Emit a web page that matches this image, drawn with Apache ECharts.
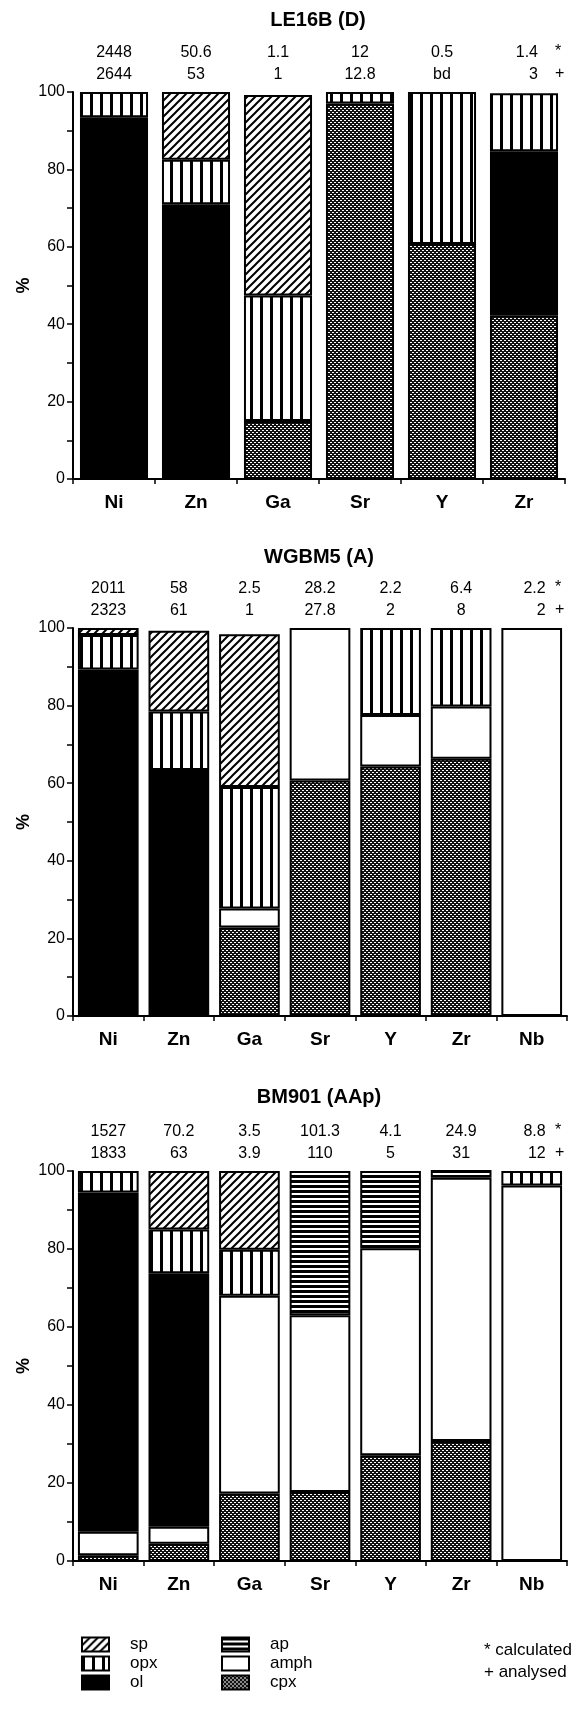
<!DOCTYPE html>
<html><head><meta charset="utf-8">
<script src="https://cdn.jsdelivr.net/npm/echarts@6/dist/echarts.min.js"></script>
<style>html,body{margin:0;padding:0;background:#fff}#c{width:576px;height:1716px}</style>
</head><body><div id="c"></div>
<script>
// ---------- DATA ----------
const titles = ['LE16B (D)', 'WGBM5 (A)', 'BM901 (AAp)'];
const elements1 = ['Ni', 'Zn', 'Ga', 'Sr', 'Y', 'Zr'];
const elements2 = ['Ni', 'Zn', 'Ga', 'Sr', 'Y', 'Zr', 'Nb'];
const elements3 = ['Ni', 'Zn', 'Ga', 'Sr', 'Y', 'Zr', 'Nb'];
const calc1 = ['2448', '50.6', '1.1', '12', '0.5', '1.4'];
const anal1 = ['2644', '53', '1', '12.8', 'bd', '3'];
const calc2 = ['2011', '58', '2.5', '28.2', '2.2', '6.4', '2.2'];
const anal2 = ['2323', '61', '1', '27.8', '2', '8', '2'];
const calc3 = ['1527', '70.2', '3.5', '101.3', '4.1', '24.9', '8.8'];
const anal3 = ['1833', '63', '3.9', '110', '5', '31', '12'];
const yTicks = [0, 20, 40, 60, 80, 100];

// mineral contributions (%), stacked bottom -> top: cpx, amph, ol, opx, sp, ap
const cpx1  = [null, null, 15, 97, 60.7, 42.3];
const amph1 = [null, null, null, null, null, null];
const ol1   = [93.5, 71, null, null, null, 42.4];
const opx1  = [6.5, 11.5, 32.4, 3, 39.3, 15];
const sp1   = [null, 17.5, 51.8, null, null, null];
const ap1   = [null, null, null, null, null, null];

const cpx2  = [1, 1, 22.8, 60.7, 64.3, 66.3, null];
const amph2 = [null, null, 4.9, 39.3, 13.3, 13.5, 100];
const ol2   = [88.3, 62.4, null, null, null, null, null];
const opx2  = [8.9, 15.1, 31.3, null, 22.4, 20.2, null];
const sp2   = [1.8, 20.8, 39.4, null, null, null, null];
const ap2   = [null, null, null, null, null, null, null];

const cpx3  = [1.5, 4.4, 17.3, 17.7, 27.1, 30.8, null];
const amph3 = [6, 4.4, 50.7, 45.3, 53.1, 67.5, 96.3];
const ol3   = [87, 65, null, null, null, null, null];
const opx3  = [5.5, 11.2, 11.8, null, null, null, 3.7];
const sp3   = [null, 15, 20.2, null, null, null, null];
const ap3   = [null, null, null, 37, 19.8, 2.3, null];

const legendCol1 = ['sp', 'opx', 'ol'];
const legendCol2 = ['ap', 'amph', 'cpx'];
const noteLines = ['* calculated', '+ analysed'];

// ---------- STYLE ----------
const FONT = 'Liberation Sans, Arial, sans-serif';
function tile(w, h, draw) {
  const c = document.createElement('canvas'); c.width = w; c.height = h;
  const g = c.getContext('2d'); draw(g); return {image: c, repeat: 'repeat'};
}
const fills = {
  sp: tile(8, 8, g => {
    g.fillStyle = '#fff'; g.fillRect(0, 0, 8, 8);
    g.strokeStyle = '#000'; g.lineWidth = 2;
    g.beginPath(); g.moveTo(-1, 9); g.lineTo(9, -1);
    g.moveTo(-1, 1); g.lineTo(1, -1); g.moveTo(7, 9); g.lineTo(9, 7); g.stroke();
  }),
  opx: tile(10, 1, g => { g.fillStyle = '#fff'; g.fillRect(0, 0, 10, 1); g.fillStyle = '#000'; g.fillRect(0, 0, 3, 1); }),
  ol: '#000',
  ap: tile(1, 5, g => { g.fillStyle = '#fff'; g.fillRect(0, 0, 1, 5); g.fillStyle = '#000'; g.fillRect(0, 0, 1, 3); }),
  amph: '#fff',
  cpx: tile(4, 4, g => {
    g.fillStyle = '#111'; g.fillRect(0, 0, 4, 4); g.fillStyle = '#fff';
    g.fillRect(0, 0, 1, 1); g.fillRect(2, 2, 1, 1); g.fillRect(1, 0, 1, 1); g.fillRect(3, 2, 1, 1);
  })
};
const layouts = [
  {left: 73, top: 92, width: 492, height: 387, titleY: 20, barW: '83%'},
  {left: 73, top: 628, width: 494, height: 388, titleY: 557, barW: '86%'},
  {left: 73, top: 1171, width: 494, height: 390, titleY: 1097, barW: '86%'}
];
const charts = [
  {cats: elements1, calc: calc1, anal: anal1, d: {cpx: cpx1, amph: amph1, ol: ol1, opx: opx1, sp: sp1, ap: ap1}},
  {cats: elements2, calc: calc2, anal: anal2, d: {cpx: cpx2, amph: amph2, ol: ol2, opx: opx2, sp: sp2, ap: ap2}},
  {cats: elements3, calc: calc3, anal: anal3, d: {cpx: cpx3, amph: amph3, ol: ol3, opx: opx3, sp: sp3, ap: ap3}}
];
const order = ['cpx', 'amph', 'ol', 'opx', 'sp', 'ap'];

const grid = [], xAxis = [], yAxis = [], series = [], graphic = [];
charts.forEach((ch, i) => {
  const L = layouts[i];
  const last = ch.cats.length - 1;
  grid.push({left: L.left, top: L.top, width: L.width, height: L.height});
  xAxis.push({
    type: 'category', gridIndex: i, data: ch.cats, position: 'bottom',
    axisLine: {lineStyle: {color: '#000', width: 2}},
    axisTick: {show: true, length: 5, lineStyle: {color: '#000', width: 1.5}},
    axisLabel: {color: '#000', fontFamily: FONT, fontSize: 19, fontWeight: 'bold', margin: 14},
    splitLine: {show: false}
  });
  xAxis.push({
    type: 'category', gridIndex: i, data: ch.cats, position: 'top',
    axisLine: {show: false}, axisTick: {show: false}, splitLine: {show: false},
    axisLabel: {color: '#000', fontFamily: FONT, fontSize: 16, lineHeight: 22, margin: 6,
      rich: {r: {width: 28, align: 'right', fontFamily: FONT, fontSize: 16, lineHeight: 22, color: '#000'}},
      formatter: (v, idx) => idx === last
        ? '{r|' + ch.calc[idx] + '}\n{r|' + ch.anal[idx] + '}'
        : ch.calc[idx] + '\n' + ch.anal[idx]}
  });
  yAxis.push({
    type: 'value', gridIndex: i, min: yTicks[0], max: yTicks[yTicks.length - 1], interval: 20,
    axisLine: {show: true, lineStyle: {color: '#000', width: 2}},
    axisTick: {show: true, length: 6, lineStyle: {color: '#000', width: 1.5}},
    minorTick: {show: true, splitNumber: 2, length: 6, lineStyle: {color: '#000', width: 1.5}},
    splitLine: {show: false}, minorSplitLine: {show: false},
    axisLabel: {color: '#000', fontFamily: FONT, fontSize: 16, margin: 8},
    name: '%', nameLocation: 'middle', nameGap: 40, nameRotate: 90, nameMoveOverlap: false,
    nameTextStyle: {color: '#000', fontFamily: FONT, fontSize: 18, fontWeight: 'bold'}
  });
  order.forEach(m => {
    series.push({
      type: 'bar', name: m, xAxisIndex: i * 2, yAxisIndex: i, stack: 'g' + i,
      data: ch.d[m], barWidth: L.barW,
      itemStyle: {color: fills[m], borderColor: '#000', borderWidth: 2},
      emphasis: {disabled: true}, animation: false
    });
  });
  graphic.push({type: 'text', x: L.left + L.width / 2 - 1, y: L.titleY,
    style: {text: titles[i], font: 'bold 20px ' + FONT, fill: '#000', textAlign: 'center', textVerticalAlign: 'middle'}});
  graphic.push({type: 'text', x: 555, y: L.top - 40,
    style: {text: '*', font: '16px ' + FONT, fill: '#000', textAlign: 'left', textVerticalAlign: 'middle'}});
  graphic.push({type: 'text', x: 555, y: L.top - 18,
    style: {text: '+', font: '16px ' + FONT, fill: '#000', textAlign: 'left', textVerticalAlign: 'middle'}});
});
noteLines.forEach((t, k) => {
  graphic.push({type: 'text', x: 484, y: 1650 + k * 22,
    style: {text: t, font: '17px ' + FONT, fill: '#000', textAlign: 'left', textVerticalAlign: 'middle'}});
});

const legendBase = {
  orient: 'vertical', top: 1631, itemWidth: 27, itemHeight: 14, itemGap: 2, icon: 'rect',
  selectedMode: false, textStyle: {color: '#000', fontFamily: FONT, fontSize: 17, padding: [0, 0, 0, 16]}
};

const chart = echarts.init(document.getElementById('c'), null, {renderer: 'canvas'});
chart.setOption({
  animation: false,
  grid, xAxis, yAxis, series, graphic,
  legend: [
    Object.assign({}, legendBase, {left: 76, data: legendCol1}),
    Object.assign({}, legendBase, {left: 216, data: legendCol2})
  ]
});
</script></body></html>
